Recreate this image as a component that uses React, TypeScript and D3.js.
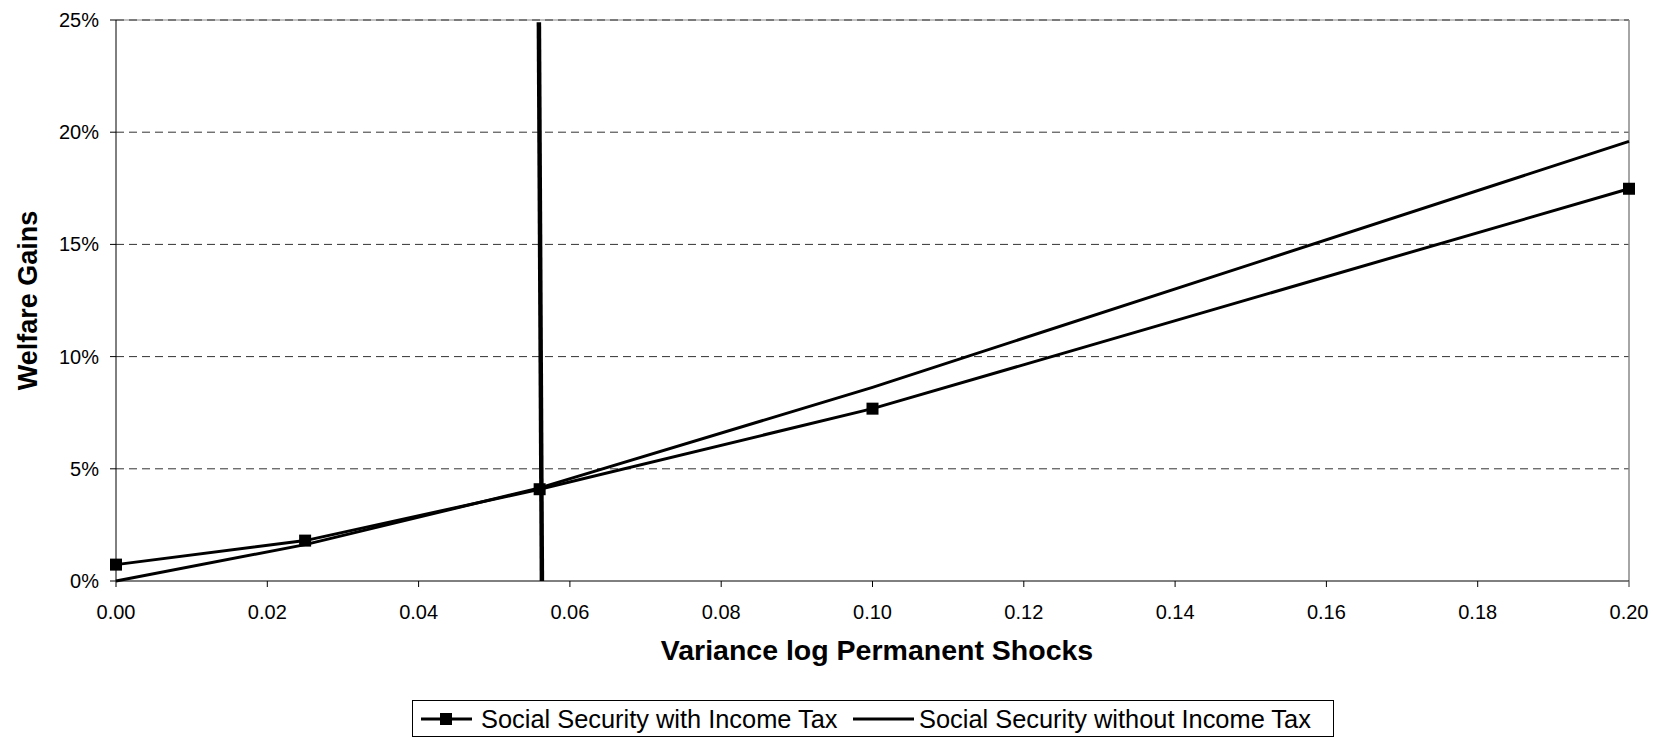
import React from "react";
import * as d3 from "d3";

const xVals = [0, 0.025, 0.056, 0.1, 0.2];
const withTax = [0.73, 1.8, 4.09, 7.68, 17.48];
const withoutTax = [0.0, 1.62, 4.15, 8.63, 19.59];
const vLineX = [0.0563, 0.0559];
const vLineY = [0, 24.9];
const xTicks = [0, 0.02, 0.04, 0.06, 0.08, 0.1, 0.12, 0.14, 0.16, 0.18, 0.2];
const yTicks = [0, 5, 10, 15, 20, 25];
const seriesNames = ["Social Security with Income Tax", "Social Security without Income Tax"];

const W = 1654, H = 738;
const FONT = "'Liberation Sans', Arial, sans-serif";

export default function App() {
  const x = d3.scaleLinear().domain([0, 0.2]).range([116, 1629]);
  const y = d3.scaleLinear().domain([0, 25]).range([581, 20]);
  const line = d3.line<[number, number]>().x(d => x(d[0])).y(d => y(d[1]));
  const withPts: [number, number][] = xVals.map((v, i) => [v, withTax[i]]);
  const withoutPts: [number, number][] = xVals.map((v, i) => [v, withoutTax[i]]);
  const vPts: [number, number][] = vLineX.map((v, i) => [v, vLineY[i]]);
  const [x0, x1] = x.range();
  const [y0, y1] = y.range();
  return (
    <svg width={W} height={H} style={{ position: "absolute", left: 0, top: 0, background: "#fff" }} fontFamily={FONT}>
      <rect x={0} y={0} width={W} height={H} fill="#fff" />
      {/* grid */}
      {yTicks.filter(t => t > 0).map(t => (
        <g key={t}>
          {t === 25 && <line x1={x0} x2={x1} y1={y(t)} y2={y(t)} stroke="#888" strokeWidth={1} />}
          <line x1={x0} x2={x1} y1={y(t)} y2={y(t)} stroke="#333" strokeWidth={1} strokeDasharray="8,5" />
        </g>
      ))}
      {/* right border */}
      <line x1={x1} x2={x1} y1={y1} y2={y0 + 6} stroke="#888" strokeWidth={1.5} />
      {/* axes */}
      <line x1={x0} x2={x0} y1={y1} y2={y0} stroke="#000" strokeWidth={1} />
      <line x1={x0} x2={x1} y1={y0} y2={y0} stroke="#000" strokeWidth={1} />
      {yTicks.map(t => (
        <g key={"yt" + t}>
          <line x1={x0 - 6} x2={x0} y1={y(t)} y2={y(t)} stroke="#000" />
          <text x={99} y={y(t)} dy="0.35em" textAnchor="end" fontSize={20}>{t + "%"}</text>
        </g>
      ))}
      {xTicks.map(t => (
        <g key={"xt" + t}>
          <line x1={x(t)} x2={x(t)} y1={y0} y2={y0 + 6} stroke={t === 0.2 ? "#888" : "#000"} />
          <text x={x(t)} y={612} dy="0.35em" textAnchor="middle" fontSize={20}>{t.toFixed(2)}</text>
        </g>
      ))}
      {/* series */}
      <path d={line(withoutPts) || ""} fill="none" stroke="#000" strokeWidth={3} />
      <path d={line(withPts) || ""} fill="none" stroke="#000" strokeWidth={3} />
      {withPts.map((p, i) => (
        <rect key={i} x={x(p[0]) - 6} y={y(p[1]) - 6} width={12} height={12} fill="#000" />
      ))}
      <path d={line(vPts) || ""} fill="none" stroke="#000" strokeWidth={4.5} />
      {/* axis titles */}
      <text x={877} y={650} dy="0.35em" textAnchor="middle" fontSize={28.5} fontWeight="bold">Variance log Permanent Shocks</text>
      <text transform={`translate(28,${(y0 + y1) / 2}) rotate(-90)`} dy="0.35em" textAnchor="middle" fontSize={27} fontWeight="bold">Welfare Gains</text>
      {/* legend */}
      <rect x={412.5} y={700.5} width={921} height={36} fill="#fff" stroke="#000" strokeWidth={1} />
      <line x1={421} x2={472} y1={719} y2={719} stroke="#000" strokeWidth={3} />
      <rect x={446 - 6} y={719 - 6} width={12} height={12} fill="#000" />
      <text x={481} y={719} dy="0.35em" fontSize={25.4}>{seriesNames[0]}</text>
      <line x1={853} x2={914} y1={719} y2={719} stroke="#000" strokeWidth={3} />
      <text x={919} y={719} dy="0.35em" fontSize={25.4}>{seriesNames[1]}</text>
    </svg>
  );
}
